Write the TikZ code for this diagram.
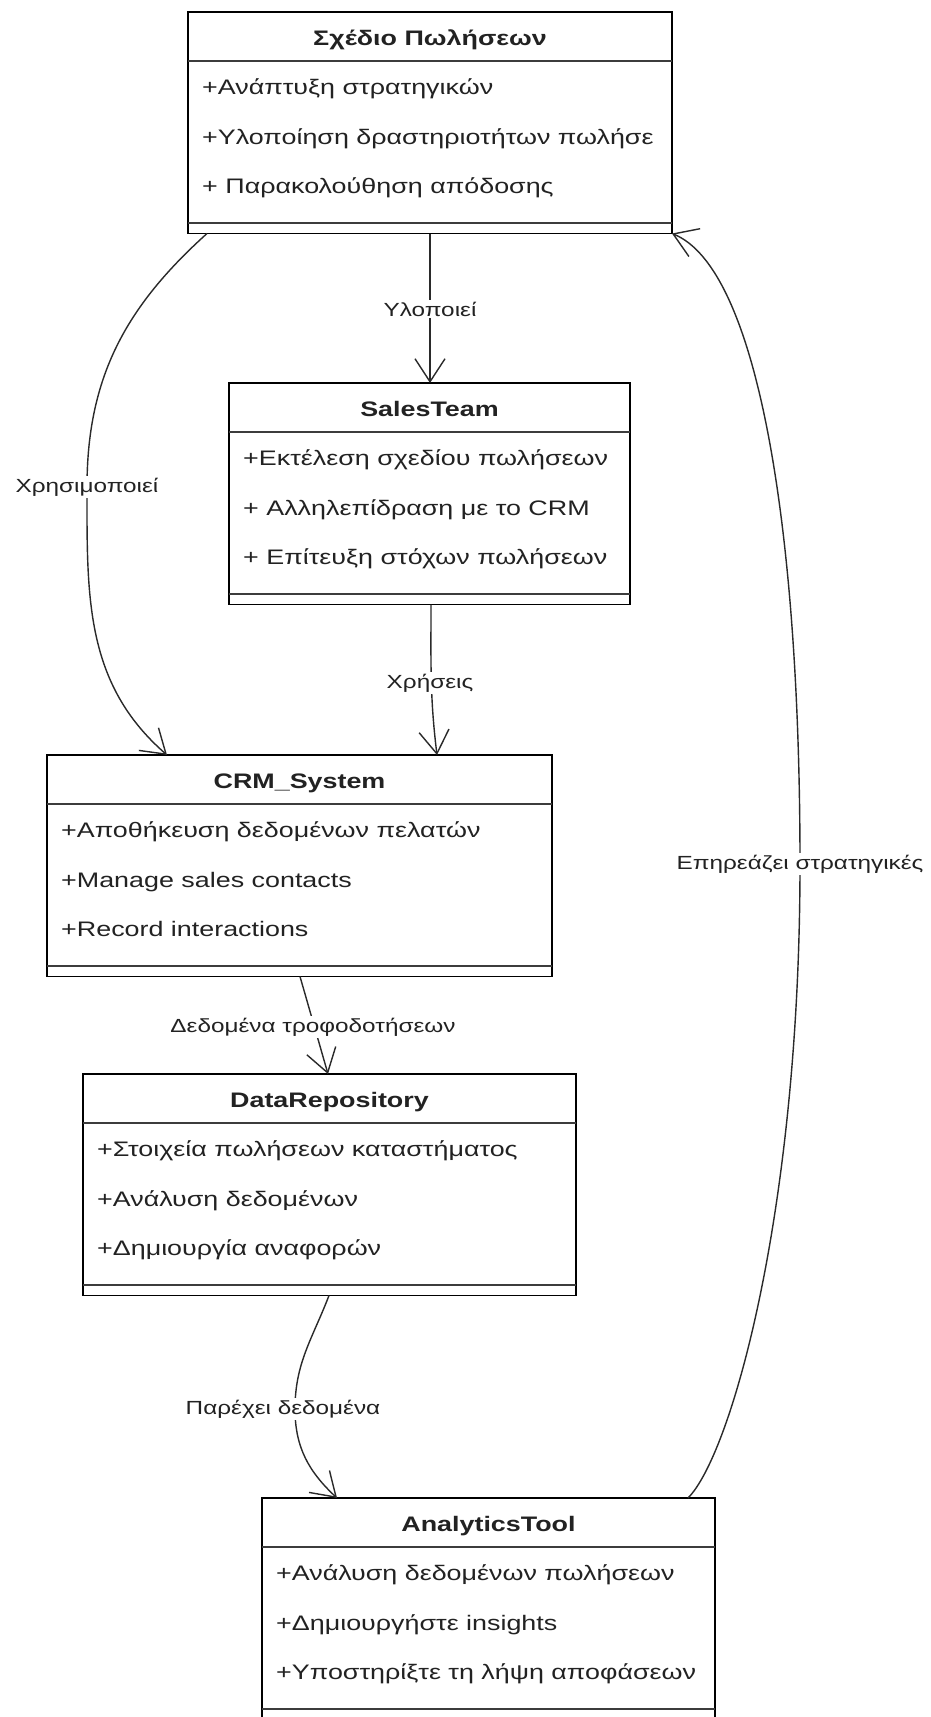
\documentclass[tikz,border=0pt]{standalone}
\usepackage{fontspec}
\setmainfont{Liberation Sans}[FakeStretch=1.28]
\usetikzlibrary{arrows.meta}

\definecolor{ink}{HTML}{222222}
\definecolor{edgeline}{HTML}{2A2A2A}
\definecolor{ruleline}{HTML}{3C3C3C}

\tikzset{
  classbox/.style={draw=black, line width=1.6pt, fill=white, rectangle,
    inner sep=0pt, outer sep=0pt, minimum height=221.5pt},
  sepline/.style={draw=ruleline, line width=2pt},
  classtitle/.style={anchor=base, inner sep=0pt, text=ink,
    font=\fontsize{21pt}{25pt}\selectfont\bfseries},
  attr/.style={anchor=base west, inner sep=0pt, text=ink,
    font=\fontsize{21pt}{25pt}\selectfont},
  conn/.style={draw=edgeline, line width=1.4pt,
    -{Straight Barb[length=23pt,width=30pt]}},
  lbl/.style={fill=white, inner sep=2pt, text=ink,
    font=\fontsize{19pt}{23pt}\selectfont},
}

% UML class: name, left, top, width, title, three attribute rows
\newcommand\umlclass[8]{%
  \node[classbox, minimum width=#4pt, anchor=north west] (#1) at (#2,-#3) {};
  \draw[sepline] ([yshift=-49pt]#1.north west) -- ([yshift=-49pt]#1.north east);
  \draw[sepline] ([yshift=11pt]#1.south west) -- ([yshift=11pt]#1.south east);
  \node[classtitle] (#1-title) at ([yshift=-33pt]#1.north) {#5};
  \node[attr] (#1-a) at ([xshift=14pt,yshift=-82pt]#1.north west) {#6};
  \node[attr] (#1-b) at ([xshift=14pt,yshift=-132pt]#1.north west) {#7};
  \node[attr] (#1-c) at ([xshift=14pt,yshift=-181pt]#1.north west) {#8};
}

\begin{document}
\begin{tikzpicture}[x=1pt, y=1pt]
  \path[use as bounding box, fill=white] (0,-1717) rectangle (931,0);
  \clip (0,-1717) rectangle (931,0);

  % classes
  \umlclass{plan}{188}{12}{484}{Σχέδιο Πωλήσεων}
    {+Ανάπτυξη στρατηγικών}
    {+Υλοποίηση δραστηριοτήτων πωλήσε}
    {+ Παρακολούθηση απόδοσης}
  \umlclass{sales}{229}{383}{401}{SalesTeam}
    {+Εκτέλεση σχεδίου πωλήσεων}
    {+ Αλληλεπίδραση με το CRM}
    {+ Επίτευξη στόχων πωλήσεων}
  \umlclass{crm}{47}{755}{505}{CRM\_System}
    {+Αποθήκευση δεδομένων πελατών}
    {+Manage sales contacts}
    {+Record interactions}
  \umlclass{repo}{83}{1074}{493}{DataRepository}
    {+Στοιχεία πωλήσεων καταστήματος}
    {+Ανάλυση δεδομένων}
    {+Δημιουργία αναφορών}
  \umlclass{ana}{262}{1498}{453}{AnalyticsTool}
    {+Ανάλυση δεδομένων πωλήσεων}
    {+Δημιουργήστε insights}
    {+Υποστηρίξτε τη λήψη αποφάσεων}

  % waypoints of the curved connectors
  \coordinate (k2) at (87,-487);
  \coordinate (k5) at (295,-1409);
  \coordinate (k6) at (800,-864);

  % connectors
  \draw[conn] (plan.south) -- (plan.south |- sales.north);
  \draw[conn] ([xshift=19pt]plan.south west) to[out=222,in=90] (k2)
    to[out=-90,in=139] ([xshift=120pt]crm.north west);
  \draw[conn] ([xshift=202pt]sales.south west) to[out=-90,in=97]
    ([xshift=390pt]crm.north west);
  \draw[conn] ([xshift=253pt]crm.south west) -- ([xshift=245pt]repo.north west);
  \draw[conn] ([xshift=246pt]repo.south west) to[out=249,in=90] (k5)
    to[out=-90,in=137] ([xshift=75pt]ana.north west);
  \draw[conn] ([xshift=426pt]ana.north west)
    to[out=45,in=-90,out looseness=0.24,in looseness=1.39] (k6)
    to[out=90,in=-22,out looseness=1.37,in looseness=0.36] (plan.south east);

  % connector labels
  \node[lbl] (l1) at (430,-309) {Υλοποιεί};
  \node[lbl] (l2) at (k2) {Χρησιμοποιεί};
  \node[lbl] (l3) at (430,-683) {Χρήσεις};
  \node[lbl] (l4) at (313,-1027) {Δεδομένα τροφοδοτήσεων};
  \node[lbl] (l5) at (283,-1409) {Παρέχει δεδομένα};
  \node[lbl] (l6) at (k6) {Επηρεάζει στρατηγικές};
\end{tikzpicture}
\end{document}
